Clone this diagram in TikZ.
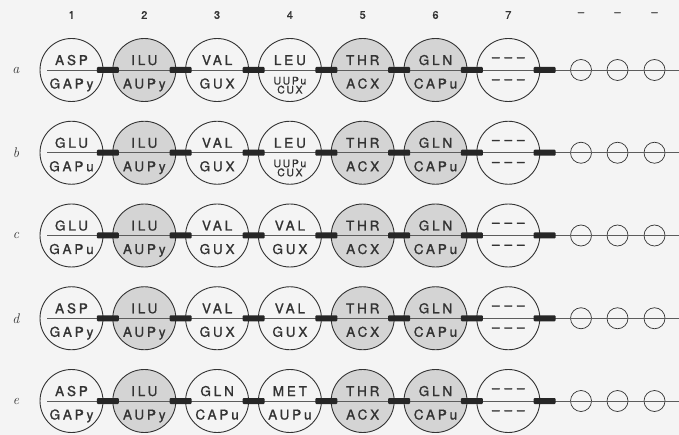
\documentclass[tikz,border=0pt]{standalone}
\usepackage{fontspec}
\setsansfont{TeX Gyre Heros}
\newfontfamily\lblfont{TeX Gyre Heros}[LetterSpace=21, FakeBold=1.2]
\newfontfamily\smallfont{TeX Gyre Heros}[LetterSpace=15, FakeBold=0.8]
\newfontfamily\headfont{TeX Gyre Heros}[FakeBold=0.8]
\usetikzlibrary{positioning}

\definecolor{ink}{HTML}{333333}
\definecolor{shade}{HTML}{D4D4D4}
\definecolor{paper}{HTML}{F4F4F4}

\tikzset{
  res/.style={circle, draw=ink, line width=0.9pt, minimum size=63pt, inner sep=0pt},
  hydro/.style={res, fill=shade},
  spare/.style={circle, draw=ink, line width=0.7pt, minimum size=21pt, inner sep=0pt},
  bond/.style={fill=black!85, rounded corners=1pt, minimum width=22pt, minimum height=6pt, inner sep=0pt},
  chain/.style={draw=ink!80, line width=0.6pt},
  aa/.style={font=\lblfont\fontsize{13.5}{14}\selectfont, text=ink, inner sep=0pt, anchor=base},
  codsmall/.style={font=\smallfont\fontsize{10.5}{11}\selectfont, text=ink, inner sep=0pt, anchor=base},
  head/.style={font=\headfont\fontsize{11}{11}\selectfont, text=ink},
  rowlab/.style={font=\itshape\fontsize{14}{14}\selectfont, text=ink},
}

% amino acid circle: [style] name x y acid codon
\newcommand{\aacirc}[6][res]{%
  \node[#1] (#2) at (#3,#4) {};
  \node[aa] (#2t) at ([yshift=5pt]#2.center) {#5};
  \node[aa] (#2b) at ([yshift=-18.5pt]#2.center) {#6};
}
% same, with two codon lines
\newcommand{\aacircii}[6]{%
  \node[res] (#1) at (#2,#3) {};
  \node[aa] (#1t) at ([yshift=5pt]#1.center) {#4};
  \node[codsmall] (#1b) at ([yshift=-14.5pt]#1.center) {#5};
  \node[codsmall] (#1c) at ([yshift=-23.5pt]#1.center) {#6};
}
% unknown residue
\newcommand{\blankcirc}[3]{%
  \node[res] (#1) at (#2,#3) {};
  \node[aa] (#1t) at ([yshift=8.5pt]#1.center) {\textendash\hspace{5pt}\textendash\hspace{5pt}\textendash};
  \node[aa] (#1b) at ([yshift=-13.5pt]#1.center) {\textendash\hspace{5pt}\textendash\hspace{5pt}\textendash};
}

\begin{document}
\begin{tikzpicture}[x=1pt, y=-1pt]
  \fill[paper] (0,0) rectangle (679,435);
  \useasboundingbox (0,0) rectangle (679,435);

  % column numbers
  \foreach \i/\x in {1/71.5, 2/144.3, 3/217.1, 4/289.9, 5/362.7, 6/435.5, 7/508.3}
    \node[head] (n\i) at (\x,15) {\i};
  \foreach \i/\x in {1/581, 2/617.5, 3/654.5}
    \node[head] (m\i) at (\x,14) {\textendash};

  % row a
  \aacirc{a1}{71.5}{70}{ASP}{GAPy}
  \aacirc[hydro]{a2}{144.3}{70}{ILU}{AUPy}
  \aacirc{a3}{217.1}{70}{VAL}{GUX}
  \aacircii{a4}{289.9}{70}{LEU}{UUPu}{CUX}
  \aacirc[hydro]{a5}{362.7}{70}{THR}{ACX}
  \aacirc[hydro]{a6}{435.5}{70}{GLN}{CAPu}
  \blankcirc{a7}{508.3}{70}

  % row b
  \aacirc{b1}{71.5}{152.75}{GLU}{GAPu}
  \aacirc[hydro]{b2}{144.3}{152.75}{ILU}{AUPy}
  \aacirc{b3}{217.1}{152.75}{VAL}{GUX}
  \aacircii{b4}{289.9}{152.75}{LEU}{UUPu}{CUX}
  \aacirc[hydro]{b5}{362.7}{152.75}{THR}{ACX}
  \aacirc[hydro]{b6}{435.5}{152.75}{GLN}{CAPu}
  \blankcirc{b7}{508.3}{152.75}

  % row c
  \aacirc{c1}{71.5}{235.5}{GLU}{GAPu}
  \aacirc[hydro]{c2}{144.3}{235.5}{ILU}{AUPy}
  \aacirc{c3}{217.1}{235.5}{VAL}{GUX}
  \aacirc{c4}{289.9}{235.5}{VAL}{GUX}
  \aacirc[hydro]{c5}{362.7}{235.5}{THR}{ACX}
  \aacirc[hydro]{c6}{435.5}{235.5}{GLN}{CAPu}
  \blankcirc{c7}{508.3}{235.5}

  % row d
  \aacirc{d1}{71.5}{318.25}{ASP}{GAPy}
  \aacirc[hydro]{d2}{144.3}{318.25}{ILU}{AUPy}
  \aacirc{d3}{217.1}{318.25}{VAL}{GUX}
  \aacirc{d4}{289.9}{318.25}{VAL}{GUX}
  \aacirc[hydro]{d5}{362.7}{318.25}{THR}{ACX}
  \aacirc[hydro]{d6}{435.5}{318.25}{GLN}{CAPu}
  \blankcirc{d7}{508.3}{318.25}

  % row e
  \aacirc{e1}{71.5}{401}{ASP}{GAPy}
  \aacirc[hydro]{e2}{144.3}{401}{ILU}{AUPy}
  \aacirc{e3}{217.1}{401}{GLN}{CAPu}
  \aacirc{e4}{289.9}{401}{MET}{AUPu}
  \aacirc[hydro]{e5}{362.7}{401}{THR}{ACX}
  \aacirc[hydro]{e6}{435.5}{401}{GLN}{CAPu}
  \blankcirc{e7}{508.3}{401}

  % chain, bonds and open positions
  \foreach \rw in {a,b,c,d,e} {
    \node[rowlab] (l\rw) at ([xshift=-55.5pt]\rw1.center) {\rw};
    \coordinate (\rw0) at ([xshift=-24.5pt]\rw1.center);
    \node[spare] (\rw8) at ([xshift=72.7pt]\rw7.center) {};
    \node[spare] (\rw9) at ([xshift=36.5pt]\rw8.center) {};
    \node[spare] (\rw10) at ([xshift=37pt]\rw9.center) {};
    \coordinate (\rw end) at ([xshift=607.5pt]\rw1.center);
    \draw[chain] (\rw0) -- (\rw end);
    \foreach \i/\j in {1/2, 2/3, 3/4, 4/5, 5/6, 6/7, 7/8}
      \path (\rw\i.center) -- (\rw\j.center) node[midway, bond] (\rw bond\i) {};
  }
\end{tikzpicture}
\end{document}
